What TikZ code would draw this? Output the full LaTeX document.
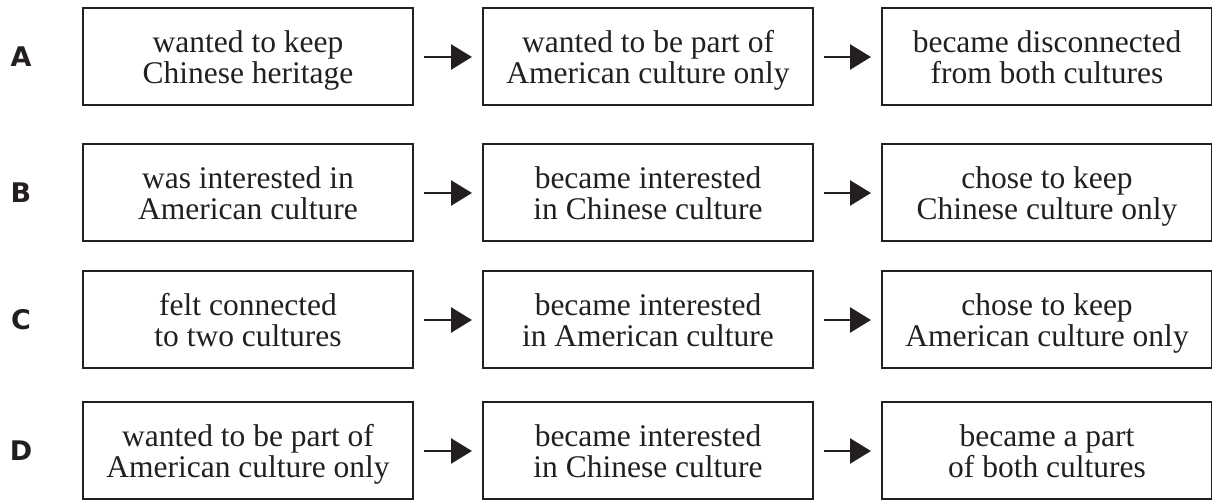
\documentclass[tikz,border=0pt]{standalone}
\usepackage{fontspec}
\setmainfont{Liberation Serif}
\newfontfamily\letterfont{DejaVu Sans}
\usetikzlibrary{arrows.meta}
\definecolor{ink}{HTML}{231F20}
\tikzset{
  x=1pt, y=1pt,
  stagebox/.style={draw=ink, line width=2pt, minimum width=330pt, minimum height=97pt,
    align=center, text=ink, inner sep=0pt, text depth=-4pt,
    font=\fontsize{31.5}{31.5}\selectfont},
  rowlabel/.style={text=ink, font=\letterfont\bfseries\fontsize{27}{27}\selectfont, inner sep=0pt},
  flow/.style={draw=ink, line width=2.6pt, -{Triangle[length=21pt,width=25pt]},
    shorten <=10pt, shorten >=10pt}
}
\begin{document}
\begin{tikzpicture}
\useasboundingbox (0,0) rectangle (1212,500);
% row A (image y 57)
\node[rowlabel] (lA) at (21,443) {A};
\node[stagebox] (a1) at (248,443) {wanted to keep\\Chinese heritage};
\node[stagebox] (a2) at (648,443) {wanted to be part of\\American culture only};
\node[stagebox] (a3) at (1047,443) {became disconnected\\from both cultures};
% row B (image y 193)
\node[rowlabel] (lB) at (21,307) {B};
\node[stagebox] (b1) at (248,307) {was interested in\\American culture};
\node[stagebox] (b2) at (648,307) {became interested\\in Chinese culture};
\node[stagebox] (b3) at (1047,307) {chose to keep\\Chinese culture only};
% row C (image y 320)
\node[rowlabel] (lC) at (21,180) {C};
\node[stagebox] (c1) at (248,180) {felt connected\\to two cultures};
\node[stagebox] (c2) at (648,180) {became interested\\in American culture};
\node[stagebox] (c3) at (1047,180) {chose to keep\\American culture only};
% row D (image y 451)
\node[rowlabel] (lD) at (21,49) {D};
\node[stagebox] (d1) at (248,49) {wanted to be part of\\American culture only};
\node[stagebox] (d2) at (648,49) {became interested\\in Chinese culture};
\node[stagebox] (d3) at (1047,49) {became a part\\of both cultures};
% arrows
\foreach \r in {a,b,c,d}{
  \draw[flow] (\r1) -- (\r2);
  \draw[flow] (\r2) -- (\r3);
}
\end{tikzpicture}
\end{document}
